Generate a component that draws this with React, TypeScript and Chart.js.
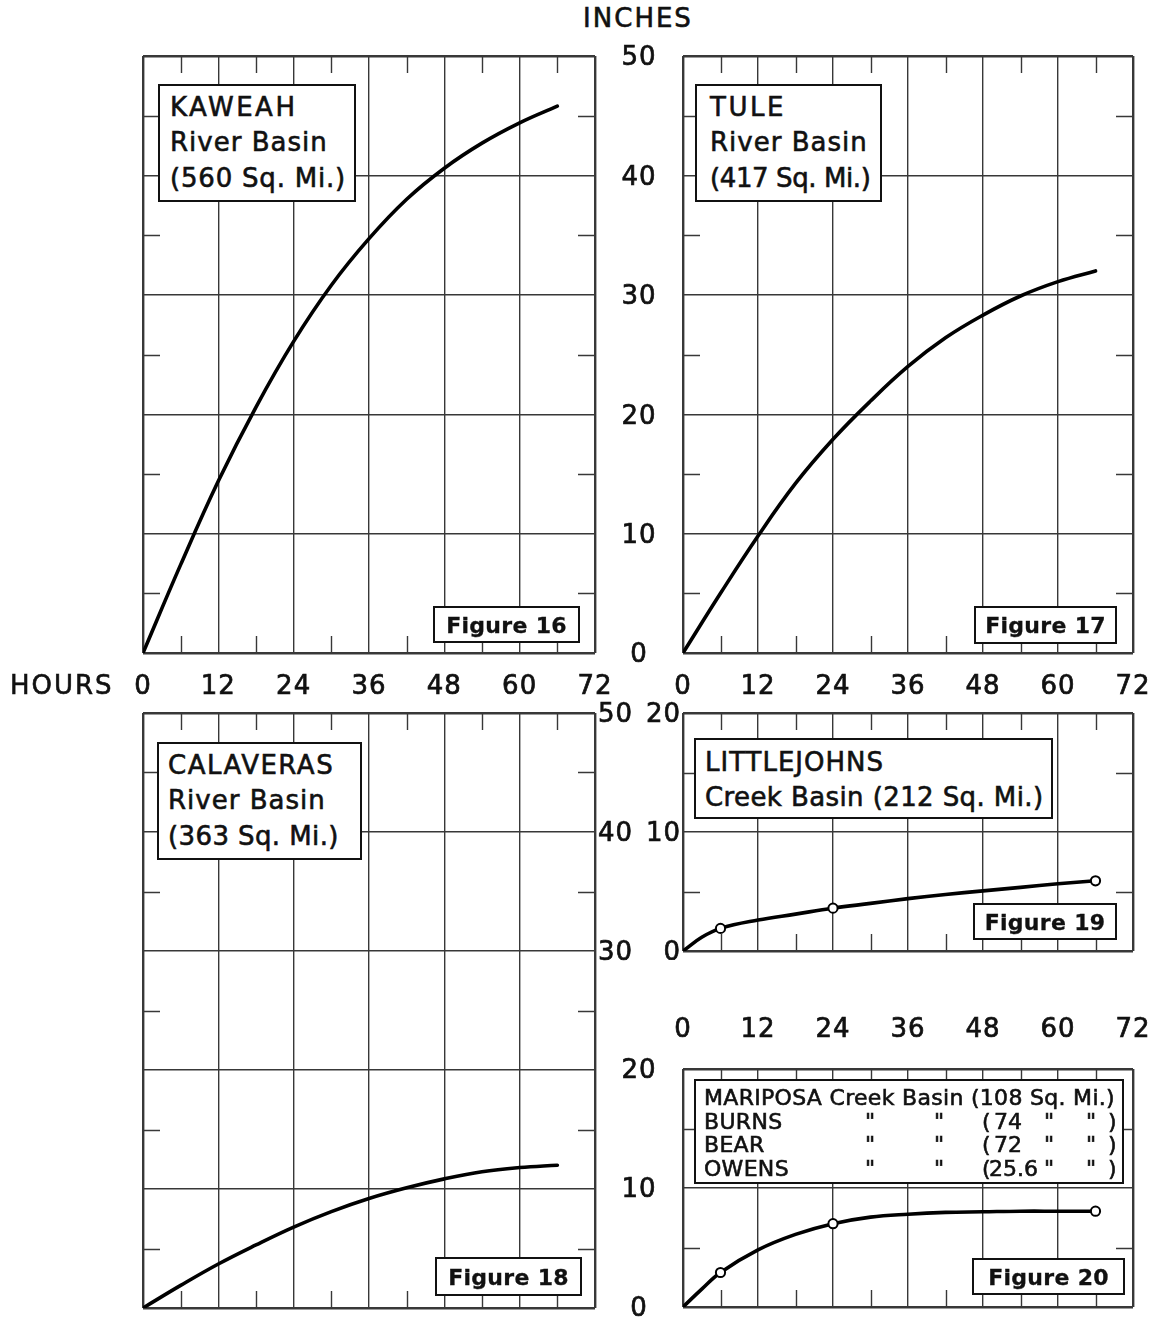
import React, { useEffect, useRef } from 'react';
import { Chart, registerables } from 'chart.js';

Chart.register(...registerables);

const FONT = '"DejaVu Sans", "Liberation Sans", Arial, sans-serif';
const INK = '#111';
const GRID = '#383838';

// Accumulated depth (inches) read every 6 hours of storm duration
const hours = [0, 6, 12, 18, 24, 30, 36, 42, 48, 54, 60, 66];
const kaweahInches = [0, 7.4, 14.4, 20.6, 26.1, 30.8, 34.7, 38.0, 40.6, 42.7, 44.4, 45.8];
const tuleInches = [0, 5.0, 9.8, 14.2, 17.9, 21.1, 24.0, 26.4, 28.3, 29.9, 31.1, 32.0];
const calaverasInches = [0, 1.9, 3.7, 5.3, 6.8, 8.1, 9.2, 10.1, 10.85, 11.45, 11.8, 12.0];

// Creek basins (smaller panels)
const creekHours = [0, 3, 6, 12, 18, 24, 30, 36, 42, 48, 54, 60, 66];
const littlejohnsInches = [0, 1.15, 1.9, 2.6, 3.1, 3.6, 4.0, 4.4, 4.75, 5.05, 5.35, 5.65, 5.9];
const mariposaInches = [0, 1.5, 2.9, 4.8, 6.1, 7.0, 7.55, 7.8, 7.95, 8.0, 8.05, 8.05, 8.05];
const markerHours = [6, 24, 66];

// Axis ticks
const hourTicks = [0, 12, 24, 36, 48, 60, 72];
const minorHourTicks = [6, 18, 30, 42, 54, 66];
const inchTicksFull = [0, 10, 20, 30, 40, 50];
const inchTicksCreek = [0, 10, 20];
const calaverasSideTicks = [50, 40, 30];
const minorInchTicks = [5, 15, 25, 35, 45];

type Area = { left: number; top: number; right: number; bottom: number };
type Frame = { left: number; top: number; width: number; height: number };
type PanelSpec = {
  id: string;
  frame: Frame;
  area: Area;
  yMax: number;
  xs: number[];
  ys: number[];
  markerXs?: number[];
  xLabels?: { values: number[]; y: number };
  yLabels?: { values: number[]; x: number; align: CanvasTextAlign };
};

const panels: PanelSpec[] = [
  {
    id: 'kaweah',
    frame: { left: 0, top: 40, width: 640, height: 670 },
    area: { left: 143, top: 56, right: 595, bottom: 653 },
    yMax: 50,
    xs: hours,
    ys: kaweahInches,
    xLabels: { values: hourTicks, y: 685 },
  },
  {
    id: 'tule',
    frame: { left: 600, top: 40, width: 556, height: 670 },
    area: { left: 683, top: 56, right: 1133, bottom: 653 },
    yMax: 50,
    xs: hours,
    ys: tuleInches,
    xLabels: { values: hourTicks, y: 685 },
    yLabels: { values: inchTicksFull, x: 639, align: 'center' },
  },
  {
    id: 'calaveras',
    frame: { left: 0, top: 700, width: 640, height: 617 },
    area: { left: 143, top: 713, right: 595, bottom: 1308 },
    yMax: 50,
    xs: hours,
    ys: calaverasInches,
    yLabels: { values: calaverasSideTicks, x: 598, align: 'left' },
  },
  {
    id: 'littlejohns',
    frame: { left: 640, top: 700, width: 516, height: 260 },
    area: { left: 683, top: 713, right: 1133, bottom: 951 },
    yMax: 20,
    xs: creekHours,
    ys: littlejohnsInches,
    markerXs: markerHours,
    yLabels: { values: inchTicksCreek, x: 681, align: 'right' },
  },
  {
    id: 'mariposa',
    frame: { left: 600, top: 1005, width: 556, height: 312 },
    area: { left: 683, top: 1069, right: 1133, bottom: 1307 },
    yMax: 20,
    xs: creekHours,
    ys: mariposaInches,
    markerXs: markerHours,
    xLabels: { values: hourTicks, y: 1028 },
    yLabels: { values: inchTicksCreek, x: 639, align: 'center' },
  },
];

const TICK_LEN = 17;
const LABEL_SIZE = 26;

function PanelChart({ spec }: { spec: PanelSpec }) {
  const ref = useRef<HTMLCanvasElement | null>(null);

  useEffect(() => {
    const canvas = ref.current;
    if (!canvas) return;
    const { frame, area, yMax } = spec;

    const edgeWidth = (max: number) => (ctx: any) => {
      const v = ctx.tick ? ctx.tick.value : -1;
      return v === 0 || v === max ? 2.4 : 1.4;
    };

    // short inward ticks at the half intervals along all four sides
    const sideTicks = {
      id: 'sideTicks',
      beforeDatasetsDraw(chart: any) {
        const { ctx, chartArea: a, scales } = chart;
        ctx.save();
        ctx.strokeStyle = GRID;
        ctx.lineWidth = 1.4;
        ctx.beginPath();
        for (const h of minorHourTicks) {
          const px = Math.round(scales.x.getPixelForValue(h)) + 0.5;
          ctx.moveTo(px, a.top);
          ctx.lineTo(px, a.top + TICK_LEN);
          ctx.moveTo(px, a.bottom);
          ctx.lineTo(px, a.bottom - TICK_LEN);
        }
        for (const v of minorInchTicks) {
          if (v >= yMax) continue;
          const py = Math.round(scales.y.getPixelForValue(v)) + 0.5;
          ctx.moveTo(a.left, py);
          ctx.lineTo(a.left + TICK_LEN, py);
          ctx.moveTo(a.right, py);
          ctx.lineTo(a.right - TICK_LEN, py);
        }
        ctx.stroke();
        ctx.restore();
      },
    };

    // numeric scale labels placed from the chart's own scales
    const scaleLabels = {
      id: 'scaleLabels',
      afterDraw(chart: any) {
        const { ctx, scales } = chart;
        ctx.save();
        ctx.fillStyle = INK;
        ctx.strokeStyle = INK;
        ctx.lineWidth = 0.7;
        ctx.font = `${LABEL_SIZE}px ${FONT}`;
        try {
          (ctx as any).letterSpacing = '1px';
        } catch (e) {
          /* ignore */
        }
        ctx.textBaseline = 'alphabetic';
        const half = LABEL_SIZE * 0.3645;
        const put = (t: string, x: number, y: number) => {
          ctx.fillText(t, x, y);
          ctx.strokeText(t, x, y);
        };
        if (spec.xLabels) {
          ctx.textAlign = 'center';
          const y = spec.xLabels.y - frame.top + half;
          for (const v of spec.xLabels.values) {
            put(String(v), scales.x.getPixelForValue(v), y);
          }
        }
        if (spec.yLabels) {
          ctx.textAlign = spec.yLabels.align;
          const x = spec.yLabels.x - frame.left;
          for (const v of spec.yLabels.values) {
            put(String(v), x, scales.y.getPixelForValue(v) + half);
          }
        }
        ctx.restore();
      },
    };

    const curve = spec.xs.map((h, i) => ({ x: h, y: spec.ys[i] }));
    const markers = (spec.markerXs || []).map((h) => ({ x: h, y: spec.ys[spec.xs.indexOf(h)] }));

    const chart = new Chart(canvas, {
      type: 'scatter',
      data: {
        datasets: [
          {
            data: markers,
            showLine: false,
            pointRadius: 4.6,
            pointBackgroundColor: '#fff',
            pointBorderColor: '#000',
            pointBorderWidth: 2,
          },
          {
            data: curve,
            showLine: true,
            borderColor: '#000',
            borderWidth: 3.6,
            borderCapStyle: 'round',
            borderJoinStyle: 'round',
            pointRadius: 0,
            tension: 0.4,
            fill: false,
          },
        ],
      },
      options: {
        responsive: false,
        animation: false,
        devicePixelRatio: 1,
        events: [],
        layout: {
          padding: {
            left: area.left - frame.left,
            top: area.top - frame.top,
            right: frame.left + frame.width - area.right,
            bottom: frame.top + frame.height - area.bottom,
          },
        },
        plugins: {
          legend: { display: false },
          tooltip: { enabled: false },
          title: { display: false },
        },
        scales: {
          x: {
            type: 'linear',
            min: 0,
            max: 72,
            ticks: { display: false, stepSize: 12 },
            grid: { drawTicks: false, color: GRID, lineWidth: edgeWidth(72) },
            border: { display: false },
          },
          y: {
            type: 'linear',
            min: 0,
            max: yMax,
            ticks: { display: false, stepSize: 10 },
            grid: { drawTicks: false, color: GRID, lineWidth: edgeWidth(yMax) },
            border: { display: false },
          },
        },
      } as any,
      plugins: [sideTicks, scaleLabels],
    });
    return () => chart.destroy();
  }, [spec]);

  const { frame } = spec;
  return (
    <canvas
      ref={ref}
      width={frame.width}
      height={frame.height}
      style={{
        position: 'absolute',
        left: frame.left,
        top: frame.top,
        width: frame.width,
        height: frame.height,
        display: 'block',
      }}
    />
  );
}

type LabelProps = {
  text: string;
  x: number;
  cy: number;
  size: number;
  align?: 'left' | 'center';
  bold?: boolean;
  spacing?: number;
};

function Label({ text, x, cy, size, align = 'left', bold = false, spacing = 0 }: LabelProps) {
  const lh = size * 1.3;
  const top = cy - size * 0.63;
  const w = 600;
  return (
    <div
      style={{
        position: 'absolute',
        left: align === 'center' ? x - w / 2 : x,
        top,
        width: align === 'center' ? w : undefined,
        textAlign: align,
        whiteSpace: 'pre',
        fontSize: size,
        lineHeight: `${lh}px`,
        fontWeight: bold ? 700 : 400,
        letterSpacing: spacing,
        color: INK,
        WebkitTextStroke: bold ? '0.3px #111' : '0.6px #111',
      }}
    >
      {text}
    </div>
  );
}

function Boxed({ left, top, width, height }: { left: number; top: number; width: number; height: number }) {
  return (
    <div
      style={{
        position: 'absolute',
        left,
        top,
        width,
        height,
        boxSizing: 'border-box',
        border: '2px solid #111',
        background: '#fff',
      }}
    />
  );
}

const basinTitles = [
  { left: 158, top: 84, width: 198, height: 118, textLeft: 170, firstCy: 107, step: 35.5, spacing: [2.5, 1, 0.8], lines: ['KAWEAH', 'River Basin', '(560 Sq. Mi.)'] },
  { left: 695, top: 84, width: 187, height: 118, textLeft: 710, firstCy: 107, step: 35.5, spacing: [2.5, 1, -0.4], lines: ['TULE', 'River Basin', '(417 Sq. Mi.)'] },
  { left: 157, top: 742, width: 205, height: 118, textLeft: 168, firstCy: 765, step: 35.5, spacing: [1.5, 1, 0.4], lines: ['CALAVERAS', 'River Basin', '(363 Sq. Mi.)'] },
  { left: 694, top: 738, width: 359, height: 81, textLeft: 705, firstCy: 762, step: 35, spacing: [1, 0.4], lines: ['LITTLEJOHNS', 'Creek Basin (212 Sq. Mi.)'] },
];

const figureTags = [
  { text: 'Figure 16', left: 433, top: 606, width: 147, height: 37 },
  { text: 'Figure 17', left: 974, top: 606, width: 143, height: 38 },
  { text: 'Figure 18', left: 435, top: 1257, width: 147, height: 39 },
  { text: 'Figure 19', left: 973, top: 903, width: 144, height: 37 },
  { text: 'Figure 20', left: 972, top: 1258, width: 153, height: 37 },
];

const creekNames = ['BURNS', 'BEAR', 'OWENS'];
const creekAreas = ['74', '72', '25.6'];

export default function App() {
  const legendRowCy = [1098, 1121.5, 1145, 1168.5];
  const legendSize = 22;
  return (
    <div
      style={{
        position: 'absolute',
        left: 0,
        top: 0,
        width: 1156,
        height: 1317,
        background: '#fff',
        overflow: 'hidden',
        fontFamily: FONT,
        color: INK,
      }}
    >
      {panels.map((p) => (
        <PanelChart key={p.id} spec={p} />
      ))}

      <Label text="INCHES" x={638} cy={18} size={26} align="center" spacing={2} />
      <Label text="HOURS" x={10} cy={685} size={26} spacing={2} />

      {basinTitles.map((b) => (
        <React.Fragment key={b.lines[0]}>
          <Boxed left={b.left} top={b.top} width={b.width} height={b.height} />
          {b.lines.map((line, i) => (
            <Label key={line} text={line} x={b.textLeft} cy={b.firstCy + i * b.step} size={26} spacing={b.spacing[i]} />
          ))}
        </React.Fragment>
      ))}

      {/* creek legend for the lower right panel */}
      <Boxed left={694} top={1079} width={430} height={105} />
      <Label text="MARIPOSA Creek Basin (108 Sq. Mi.)" x={704} cy={legendRowCy[0]} size={legendSize} spacing={0.3} />
      {creekNames.map((name, i) => {
        const cy = legendRowCy[i + 1];
        const area = creekAreas[i];
        return (
          <React.Fragment key={name}>
            <Label text={name} x={704} cy={cy} size={legendSize} spacing={0.3} />
            <Label text={'"'} x={870} cy={cy} size={legendSize} align="center" />
            <Label text={'"'} x={939} cy={cy} size={legendSize} align="center" />
            <Label text="(" x={982} cy={cy} size={legendSize} />
            <Label text={area} x={area.length > 2 ? 989 : 994} cy={cy} size={legendSize} />
            <Label text={'"'} x={1049} cy={cy} size={legendSize} align="center" />
            <Label text={'"'} x={1091} cy={cy} size={legendSize} align="center" />
            <Label text=")" x={1108} cy={cy} size={legendSize} />
          </React.Fragment>
        );
      })}

      {figureTags.map((f) => (
        <React.Fragment key={f.text}>
          <Boxed left={f.left} top={f.top} width={f.width} height={f.height} />
          <Label text={f.text} x={f.left + f.width / 2} cy={f.top + f.height / 2 + 1} size={22} bold align="center" spacing={0.3} />
        </React.Fragment>
      ))}
    </div>
  );
}
